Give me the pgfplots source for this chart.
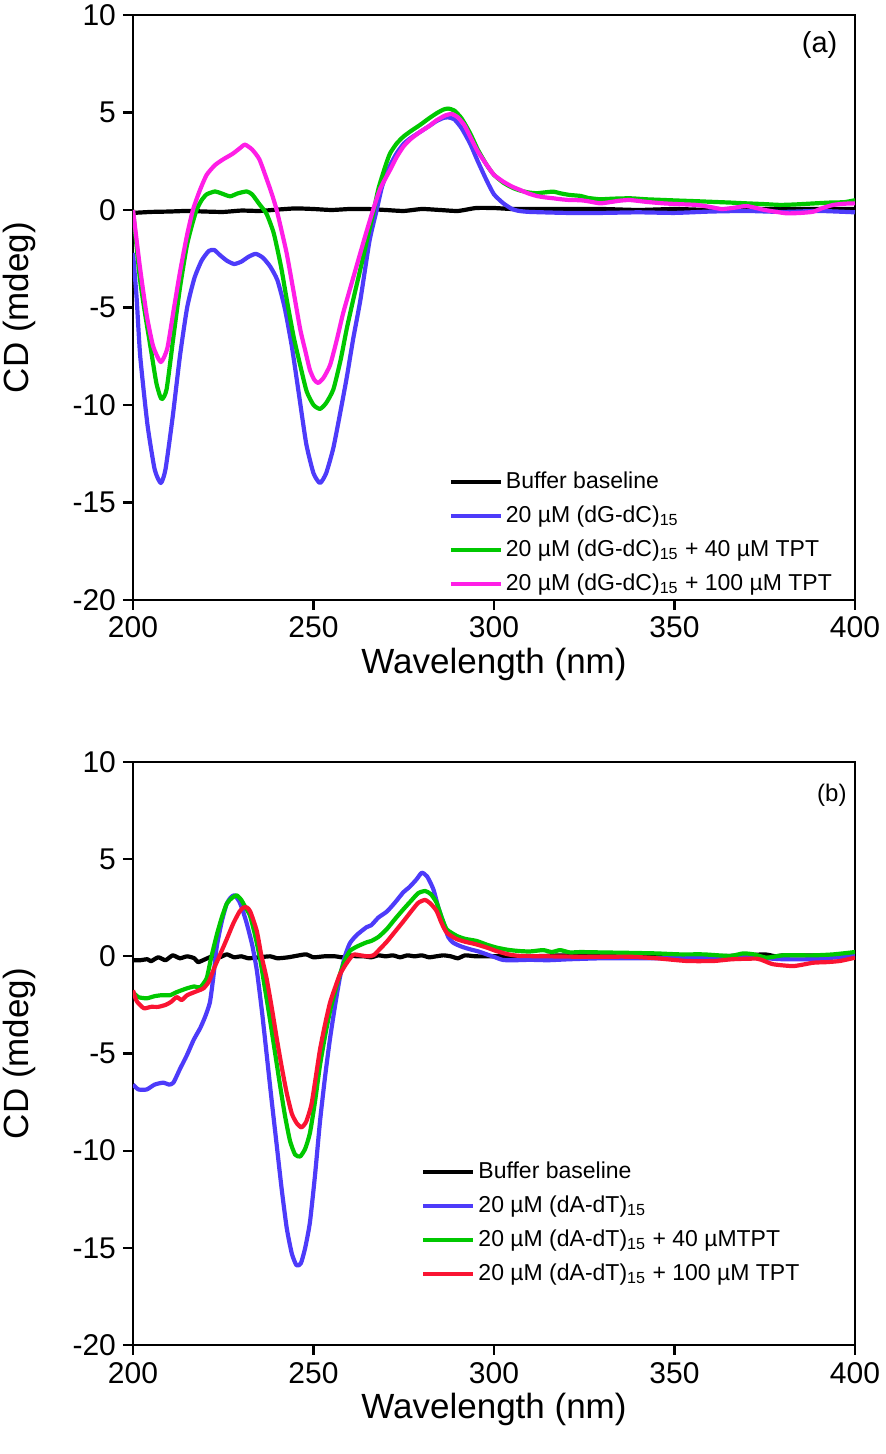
\documentclass[border=0pt]{standalone}
\usepackage{fontspec}
\setmainfont{Liberation Sans}
\usepackage{pgfplots}
\pgfplotsset{compat=1.18}
\definecolor{cblue}{RGB}{77,59,250}
\definecolor{cgreen}{RGB}{0,200,0}
\definecolor{cmag}{RGB}{255,30,230}
\definecolor{cred}{RGB}{250,20,50}
\pgfplotsset{cdstyle/.style={
  scale only axis, width=361pt,
  xmin=200,xmax=400,ymin=-20,ymax=10,
  xtick={200,250,...,400}, ytick={-20,-15,...,10},
  tick align=outside, xtick pos=bottom, ytick pos=left,
  major tick length=5pt,
  every tick/.style={black, line width=1.1pt},
  axis line style={line width=1.3pt},
  tick label style={font=\fontsize{15}{18}\selectfont},
  /pgf/number format/assume math mode=true,
  /pgf/number format/set thousands separator={},
  xlabel={Wavelength (nm)}, ylabel={CD (mdeg)},
  every axis x label/.style={at={(rel axis cs:0.5,0)}, yshift=-32pt, anchor=center, font=\fontsize{17.5}{21}\selectfont},
  every axis y label/.style={at={(rel axis cs:0,0.5)}, xshift=-57pt, rotate=90, anchor=center, font=\fontsize{17.5}{21}\selectfont},
  legend style={draw=none, fill=none, inner sep=0pt, font=\fontsize{11.5}{14}\selectfont,
    cells={anchor=west}, row sep=3pt, nodes={inner sep=1.5pt, text height=8.5pt, text depth=2.5pt}},
  legend image code/.code={\draw[#1,line width=2pt] (0pt,0pt) -- (25pt,0pt);},
  every axis plot/.append style={line width=2.1pt, line join=round, smooth, tension=0.35},
}}
\begin{document}
\begin{tikzpicture}
\useasboundingbox (0,0) rectangle (443pt,727pt);
% ---------------- panel (a)
\begin{axis}[cdstyle, height=292.5pt, at={(66.5pt,427pt)}, anchor=south west,
  legend style={at={(rel axis cs:0.437,0.226)}, anchor=north west}]
\addplot[black] coordinates {(200,-0.15)(205,-0.1)(210,-0.08)(215,-0.05)(220,-0.08)(225,-0.1)(230,-0.03)(235,-0.05)(240,0.02)(245,0.08)(250,0.05)(255,0.0)(260,0.05)(265,0.05)(270,0.0)(275,-0.05)(280,0.05)(285,0.0)(290,-0.05)(295,0.1)(300,0.1)(305,0.05)(310,0.05)(320,0.05)(330,0.05)(340,0.0)(350,0.05)(360,0.0)(370,0.05)(380,0.05)(390,0.05)(400,0.05)};
\addlegendentry{Buffer baseline}
\addplot[cblue] coordinates {(200,-2.2)(201,-4.5)(202,-7.5)(204,-11.0)(206,-13.3)(207.7,-14.0)(209,-13.3)(211,-10.6)(213,-7.5)(215,-5.0)(217,-3.5)(219,-2.6)(221,-2.1)(222.5,-2.05)(224,-2.3)(226,-2.6)(228,-2.77)(230,-2.65)(232,-2.4)(234,-2.25)(236,-2.45)(238,-2.9)(240,-3.6)(242,-5.0)(244,-7.0)(246,-9.5)(248,-12.0)(250,-13.5)(251.8,-14.0)(253.5,-13.5)(255.5,-12.2)(257.5,-10.3)(259.2,-8.6)(261,-6.6)(263,-4.6)(265.5,-1.6)(267.5,0.0)(269,1.2)(271,2.2)(273,2.9)(275,3.4)(277,3.7)(279.5,4.0)(282,4.3)(284,4.55)(286,4.72)(287.3,4.75)(289,4.65)(291,4.2)(293.4,3.4)(295.5,2.5)(298,1.5)(300,0.8)(302.6,0.34)(305,0.05)(307,-0.05)(310,-0.1)(320,-0.15)(330,-0.15)(340,-0.12)(350,-0.15)(360,-0.08)(370,-0.05)(380,-0.1)(390,-0.05)(400,-0.12)};
\addlegendentry{20 µM (dG-dC)\textsubscript{15}}
\addplot[cgreen] coordinates {(200,0)(201.9,-3.5)(203.5,-5.5)(205,-7.2)(206.5,-8.9)(207.9,-9.7)(209.3,-9.2)(211.2,-6.5)(213,-4.0)(214.9,-1.85)(216.3,-0.8)(217.6,0.0)(219,0.5)(220.4,0.8)(222.7,0.95)(224.5,0.85)(226.9,0.7)(229,0.85)(231.5,0.95)(233,0.8)(235,0.3)(237,-0.2)(239,-1.2)(241,-2.9)(242.5,-4.5)(244.5,-6.5)(246.3,-7.95)(248.1,-9.3)(250,-10.0)(251.8,-10.2)(253.5,-9.9)(255.5,-9.2)(257.5,-7.7)(259.2,-6.1)(261,-4.6)(262.9,-3.1)(265,-1.4)(266.5,-0.2)(268,1.1)(270,2.3)(271.2,2.9)(273,3.4)(274.9,3.76)(277,4.05)(279.5,4.36)(282,4.7)(284.1,4.96)(286,5.15)(287.3,5.2)(289,5.1)(291,4.7)(293.4,3.93)(295.5,3.1)(298,2.3)(300,1.8)(302.6,1.4)(305,1.15)(307.2,1.0)(309.5,0.9)(311.8,0.86)(314,0.9)(316.4,0.94)(318.5,0.85)(321,0.77)(324,0.72)(326,0.62)(329.4,0.55)(333,0.58)(337.7,0.6)(342,0.55)(346,0.52)(351.5,0.48)(356,0.45)(360,0.42)(365.4,0.38)(370,0.34)(375,0.3)(379.2,0.26)(383,0.28)(388,0.33)(393,0.38)(397,0.4)(400,0.5)};
\addlegendentry{20 µM (dG-dC)\textsubscript{15} + 40 µM TPT}
\addplot[cmag] coordinates {(200,0.0)(201.9,-2.9)(203.8,-5.4)(205.6,-7.0)(207.7,-7.8)(209.5,-7.1)(211.2,-5.2)(213,-3.2)(214.9,-1.35)(216.6,0.0)(218.5,1.0)(220.4,1.8)(222.7,2.3)(225,2.6)(227.5,2.87)(229.5,3.15)(231,3.35)(233,3.1)(235,2.6)(237,1.6)(238.5,0.8)(239.8,0.0)(241.2,-1.1)(242.6,-2.25)(244.5,-4.2)(246.3,-6.1)(247.7,-7.2)(249,-8.2)(250.2,-8.7)(251.3,-8.87)(252.8,-8.6)(254.6,-7.95)(256.4,-6.7)(258.2,-5.3)(260.5,-3.8)(262.9,-2.25)(264.7,-1.1)(266.5,0.0)(268.5,1.1)(271.2,2.05)(273,2.7)(274.9,3.25)(277,3.65)(279.5,4.0)(282,4.3)(284.1,4.6)(286.5,4.85)(288.3,4.92)(290,4.75)(291.8,4.35)(293.4,3.76)(295.5,3.0)(298,2.31)(300,1.8)(302.6,1.45)(305,1.2)(307.2,1.03)(309.5,0.85)(311.8,0.72)(314,0.65)(316.4,0.6)(318.5,0.55)(321,0.51)(324,0.5)(326,0.45)(329.4,0.34)(332,0.4)(335,0.48)(337.7,0.51)(342,0.42)(346.9,0.34)(351,0.3)(356.1,0.26)(360,0.15)(363,0.05)(366,0.1)(370,0.2)(375,0.0)(381,-0.17)(385,-0.15)(388.4,-0.09)(391,0.1)(394,0.26)(397,0.32)(400,0.34)};
\addlegendentry{20 µM (dG-dC)\textsubscript{15} + 100 µM TPT}
\node[font=\fontsize{14.5}{17}\selectfont] at (rel axis cs:0.951,0.949) {(a)};
\end{axis}
% ---------------- panel (b)
\begin{axis}[cdstyle, height=291.5pt, at={(66.5pt,54.5pt)}, anchor=south west,
  legend style={at={(rel axis cs:0.399,0.321)}, anchor=north west}]
\addplot[black] coordinates {(200,-0.2)(202,-0.2)(204,-0.15)(205,-0.25)(207,-0.05)(209,-0.2)(211,0.05)(213,-0.1)(215,0.0)(217,-0.1)(218,-0.3)(220,-0.15)(222,0.0)(224,-0.05)(226,0.1)(228,-0.05)(230,0.0)(232,-0.1)(235,-0.05)(238,0.0)(240,-0.1)(243,-0.05)(246,0.05)(248,0.1)(250,-0.05)(253,0.0)(256,0.0)(258,-0.05)(260,0.05)(262,0.0)(264,0.0)(266,-0.05)(268,0.05)(270,0.0)(272,0.05)(274,-0.05)(276,0.05)(278,0.0)(280,0.05)(282,-0.05)(284,0.0)(286,0.05)(288,0.0)(290,-0.1)(292,0.05)(295,0.0)(300,0.0)(310,0.0)(320,0.05)(330,0.0)(340,0.05)(350,0.05)(360,0.0)(370,0.05)(375,0.1)(378,0.0)(380,0.05)(385,0.05)(390,0.05)(395,0.05)(400,0.1)};
\addlegendentry{Buffer baseline}
\addplot[cblue] coordinates {(200,-6.6)(201.5,-6.85)(203.8,-6.85)(206,-6.6)(208.4,-6.5)(210,-6.6)(211.2,-6.5)(213,-5.8)(214.9,-5.1)(216.8,-4.3)(218.6,-3.7)(220,-3.1)(221.3,-2.37)(222.3,-1.0)(223.2,0.5)(224.6,1.8)(226,2.72)(227.2,3.05)(228.2,3.14)(229.5,2.8)(230.5,2.3)(231.5,1.7)(233,0.6)(234.3,-0.72)(235.7,-2.8)(237,-5.0)(238.4,-7.4)(239.8,-9.7)(241.2,-12.0)(242.6,-14.0)(244,-15.3)(245.3,-15.9)(246.5,-15.8)(247.7,-15.0)(249,-13.7)(250.4,-11.3)(251.8,-8.5)(253.2,-6.2)(254.6,-4.2)(256,-2.5)(257.3,-1.1)(258.7,0.0)(260.1,0.68)(262,1.1)(264.7,1.5)(266,1.6)(268,2.0)(270.3,2.3)(272.5,2.75)(274.9,3.3)(276.5,3.55)(278.5,3.95)(280,4.3)(281.5,4.1)(283.2,3.45)(284.6,2.5)(286,1.73)(287.3,1.0)(288.7,0.7)(291,0.5)(293.4,0.36)(295.7,0.25)(298,0.1)(300.3,-0.05)(302.6,-0.19)(306,-0.2)(310,-0.18)(315,-0.2)(321,-0.15)(330,-0.1)(340,-0.1)(350,-0.1)(360,-0.08)(370,-0.05)(380,-0.15)(388,-0.15)(395,-0.05)(400,0.03)};
\addlegendentry{20 µM (dA-dT)\textsubscript{15}}
\addplot[cgreen] coordinates {(200,-1.85)(201.5,-2.1)(203.8,-2.16)(206,-2.05)(208,-2.0)(210.3,-2.0)(212,-1.85)(214.9,-1.65)(217,-1.55)(218.6,-1.6)(220.4,-1.13)(221.5,-0.2)(223.2,1.1)(224.6,2.0)(226,2.72)(227.4,3.0)(228.7,3.14)(230,2.9)(231.2,2.5)(232.4,2.1)(233.8,1.1)(235.2,-0.13)(236.5,-1.6)(237.9,-3.2)(239.3,-4.9)(240.7,-6.6)(242.1,-8.2)(243.5,-9.5)(244.9,-10.2)(246.3,-10.3)(247.7,-9.9)(249,-9.1)(250.4,-7.5)(251.8,-5.6)(253.2,-4.1)(254.6,-2.8)(256,-1.8)(257.3,-0.94)(258.7,-0.2)(260.1,0.28)(262,0.5)(264.7,0.72)(266,0.79)(268,1.0)(270.3,1.4)(272.5,1.9)(274.9,2.42)(277,2.85)(279,3.25)(280.9,3.36)(282.5,3.2)(284.1,2.76)(285.5,2.0)(286.9,1.39)(289.7,1.05)(292,0.9)(295.2,0.79)(298,0.6)(300.7,0.45)(304,0.33)(307.2,0.27)(310,0.25)(313.6,0.32)(316,0.22)(318.3,0.32)(321,0.2)(324,0.22)(330,0.2)(337,0.18)(345,0.15)(351.5,0.1)(358,0.1)(365.4,0.02)(369,0.15)(372,0.1)(375.5,-0.07)(380,0.05)(388.4,0.05)(394,0.1)(400,0.22)};
\addlegendentry{20 µM (dA-dT)\textsubscript{15} + 40 µMTPT}
\addplot[cred] coordinates {(200,-1.75)(201,-2.3)(203,-2.67)(205,-2.6)(207,-2.6)(209,-2.5)(210.5,-2.35)(212.1,-2.1)(213.5,-2.25)(215,-2.0)(217.6,-1.8)(219.5,-1.65)(221,-1.3)(222.5,-0.6)(224.1,0.08)(226,0.9)(227.8,1.7)(229.5,2.3)(230.5,2.5)(231.5,2.52)(232.5,2.3)(234.3,1.3)(235.5,0.1)(237,-1.13)(238.4,-2.6)(239.8,-4.2)(241.2,-5.7)(242.6,-7.05)(244,-8.1)(245.4,-8.6)(246.7,-8.8)(248,-8.5)(249.4,-7.65)(250.4,-6.5)(251.8,-4.8)(253.2,-3.5)(254.6,-2.37)(256,-1.6)(257.3,-0.94)(259,-0.4)(261,0.08)(263,0.05)(265,0.0)(266.6,0.05)(268,0.3)(270.3,0.75)(272.5,1.25)(274.9,1.8)(277,2.3)(279,2.75)(280.9,2.9)(282.5,2.7)(284.1,2.33)(285.5,1.7)(286.9,1.22)(289.5,0.9)(292,0.75)(295,0.62)(298,0.45)(300.7,0.27)(304,0.1)(307.2,0.02)(315,0.0)(323,-0.02)(330,-0.02)(337.7,-0.02)(345,-0.1)(353.4,-0.24)(360.8,-0.24)(366,-0.15)(372.8,-0.12)(375,-0.25)(377.4,-0.41)(383,-0.5)(388.4,-0.33)(392,-0.3)(395.8,-0.24)(400,-0.07)};
\addlegendentry{20 µM (dA-dT)\textsubscript{15} + 100 µM TPT}
\node[font=\fontsize{12}{14}\selectfont] at (rel axis cs:0.968,0.943) {(b)};
\end{axis}
\end{tikzpicture}
\end{document}
